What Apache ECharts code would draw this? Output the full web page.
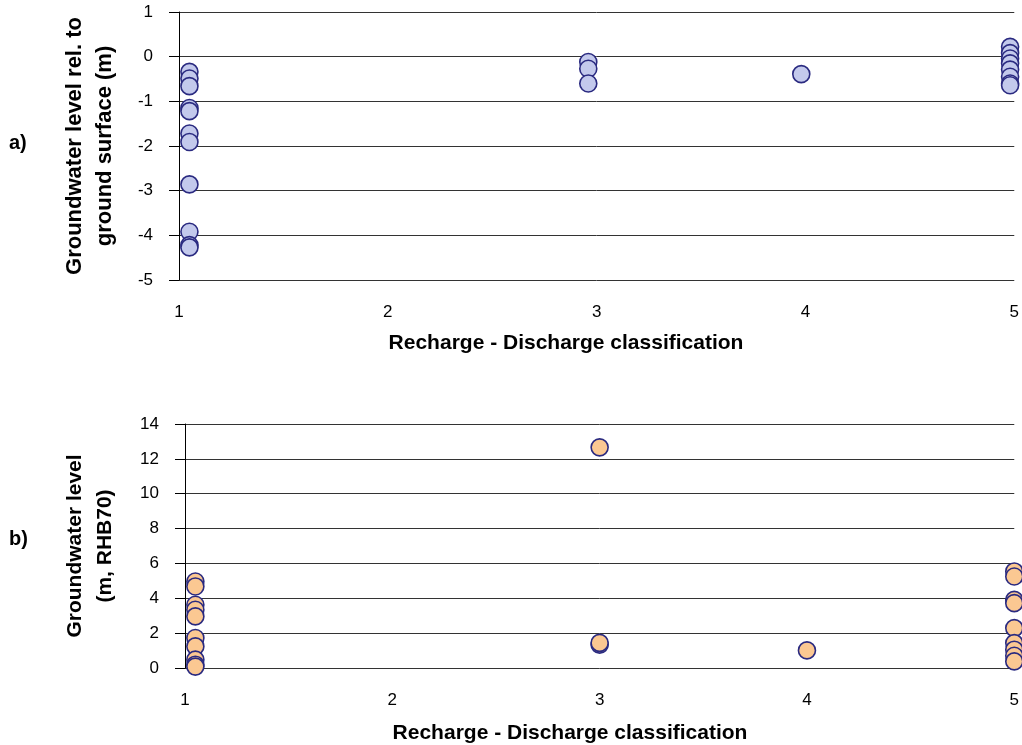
<!DOCTYPE html>
<html>
<head>
<meta charset="utf-8">
<script src="https://cdn.jsdelivr.net/npm/echarts@6/dist/echarts.min.js"></script>
<style>html,body{margin:0;padding:0;background:#fff}#c{width:1022px;height:745px}</style>
</head>
<body>
<div id="c"></div>
<script>
// Panel a: groundwater level relative to ground surface (m)
var classA = [1.05,1.05,1.05,1.05,1.05,1.05,1.05,1.05,1.05,1.05,1.05,
              2.96,2.96,2.96,
              3.98,
              4.98,4.98,4.98,4.98,4.98,4.98,4.98,4.98];
var levelA = [-0.34,-0.49,-0.66,-1.15,-1.22,-1.72,-1.91,-2.86,-3.92,-4.22,-4.27,
              -0.12,-0.27,-0.60,
              -0.39,
              0.22,0.08,-0.04,-0.15,-0.29,-0.45,-0.60,-0.64];
// Panel b: groundwater level (m, RHB70)
var classB = [1.05,1.05,1.05,1.05,1.05,1.05,1.05,1.05,1.05,1.05,
              3.0,3.0,3.0,
              4.0,
              5.0,5.0,5.0,5.0,5.0,5.0,5.0,5.0,5.0];
var levelB = [4.96,4.68,3.63,3.34,2.96,1.72,1.24,0.48,0.19,0.08,
              12.66,1.34,1.44,
              1.01,
              5.54,5.25,3.91,3.72,2.29,1.43,1.05,0.70,0.38];
var xTicks = [1,2,3,4,5];
var yTicksA = [-5,-4,-3,-2,-1,0,1];
var yTicksB = [0,2,4,6,8,10,12,14];

function pairs(xs, ys){ return xs.map(function(x,i){return [x, ys[i]];}); }

var FONT = 'Liberation Sans, Arial, sans-serif';
var chart = echarts.init(document.getElementById('c'), null, {renderer:'canvas'});

function xAxisCfg(gi){
  return {
    type:'value', gridIndex:gi, min:xTicks[0], max:xTicks[xTicks.length-1], interval:1,
    axisLine:{show:false}, axisTick:{show:false}, splitLine:{show:false},
    axisLabel:{color:'#000', fontFamily:FONT, fontSize:17, margin:24}
  };
}
function yAxisCfg(gi, ticks, name, gap, fs){
  return {
    type:'value', gridIndex:gi, min:ticks[0], max:ticks[ticks.length-1], interval:ticks[1]-ticks[0],
    name:name, nameLocation:'middle', nameRotate:90, nameGap:gap,
    nameTextStyle:{color:'#000', fontFamily:FONT, fontSize:fs, fontWeight:'bold', lineHeight:30},
    axisLine:{show:true, onZero:false, lineStyle:{color:'#000', width:1}},
    axisTick:{show:true, inside:false, length:10, lineStyle:{color:'#000', width:1}},
    axisLabel:{color:'#000', fontFamily:FONT, fontSize:17, margin:26},
    splitLine:{show:true, lineStyle:{color:'#333', width:1}}
  };
}

chart.setOption({
  animation:false,
  backgroundColor:'#fff',
  grid:[
    {left:179, top:12, width:840, height:268},
    {left:185, top:424, width:830, height:244}
  ],
  xAxis:[xAxisCfg(0), xAxisCfg(1)],
  yAxis:[
    yAxisCfg(0, yTicksA, 'Groundwater level rel. to\nground surface (m)', 59, 22),
    yAxisCfg(1, yTicksB, 'Groundwater level\n(m, RHB70)', 65, 21)
  ],
  series:[
    {type:'scatter', xAxisIndex:0, yAxisIndex:0, data:pairs(classA, levelA), symbol:'circle', symbolSize:17,
     clip:false,
     itemStyle:{color:'#c3c9ec', borderColor:'#2a2a80', borderWidth:1.6, opacity:1}},
    {type:'scatter', xAxisIndex:1, yAxisIndex:1, data:pairs(classB, levelB), symbol:'circle', symbolSize:17,
     clip:false,
     itemStyle:{color:'#fbc892', borderColor:'#2a2a80', borderWidth:1.6, opacity:1}}
  ],
  graphic:[
    {type:'text', left:9, top:133, style:{text:'a)', font:'bold 20px '+FONT, fill:'#000'}},
    {type:'text', left:9, top:529, style:{text:'b)', font:'bold 20px '+FONT, fill:'#000'}},
    {type:'text', x:566, y:343, style:{text:'Recharge - Discharge classification', font:'bold 21px '+FONT, fill:'#000', align:'center', verticalAlign:'middle'}},
    {type:'text', x:570, y:733, style:{text:'Recharge - Discharge classification', font:'bold 21px '+FONT, fill:'#000', align:'center', verticalAlign:'middle'}}
  ]
});
</script>
</body>
</html>
